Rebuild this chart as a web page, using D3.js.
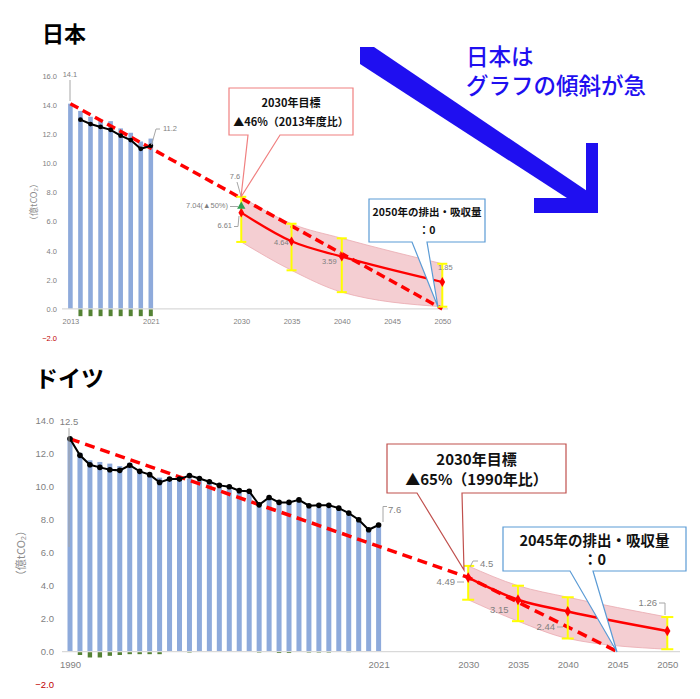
<!DOCTYPE html>
<html>
<head>
<meta charset="utf-8">
<script src="https://cdn.jsdelivr.net/npm/d3@7"></script>
<style>
  body { margin: 0; background: #fff; }
  text { font-family: "Noto Sans CJK JP", sans-serif; }
  .num { font-family: "Liberation Sans Narrow", "Liberation Sans", sans-serif; fill: #7f7f7f; }
</style>
</head>
<body>
<svg id="chart" width="700" height="699"></svg>
<script>
// ---- Japan ----
const jpYears = [2013, 2014, 2015, 2016, 2017, 2018, 2019, 2020, 2021];
const jpGross = [14.1, 13.6, 13.2, 13.0, 12.9, 12.4, 12.1, 11.5, 11.7];
const jpSink = [0, -0.5, -0.5, -0.5, -0.5, -0.5, -0.5, -0.5, -0.5];
const jpNetYears = [2014, 2015, 2016, 2017, 2018, 2019, 2020, 2021];
const jpNet = [13.0, 12.7, 12.5, 12.3, 11.9, 11.6, 11.0, 11.2];
const jpPathYears = [2013, 2030, 2050];
const jpPathVals = [14.1, 7.6, 0];
const jpProjYears = [2030, 2035, 2040, 2050];
const jpProj = [6.61, 4.64, 3.59, 1.85];
const jpHigh = [7.7, 5.85, 4.85, 3.1];
const jpLow = [4.6, 2.65, 1.15, 0.15];
const jpYTicks = [-2, 0, 2, 4, 6, 8, 10, 12, 14, 16];
const jpXTicks = [2013, 2021, 2030, 2035, 2040, 2045, 2050];

// ---- Germany ----
const deYears = [1990, 1991, 1992, 1993, 1994, 1995, 1996, 1997, 1998, 1999, 2000, 2001, 2002, 2003, 2004, 2005,
  2006, 2007, 2008, 2009, 2010, 2011, 2012, 2013, 2014, 2015, 2016, 2017, 2018, 2019, 2020, 2021];
const deGross = [12.9, 12.05, 11.6, 11.5, 11.4, 11.25, 11.45, 11.05, 10.85, 10.55, 10.35, 10.4, 10.5, 10.35, 10.2, 9.95,
  9.85, 9.65, 9.6, 8.8, 9.25, 8.95, 8.95, 9.1, 8.75, 8.75, 8.75, 8.6, 8.3, 7.9, 7.3, 7.6];
const deSink = [0, -0.2, -0.35, -0.35, -0.25, -0.2, -0.15, -0.15, -0.15, -0.15, 0, 0, -0.05, 0, 0, 0,
  0, 0, 0, -0.05, 0, -0.08, -0.08, 0, -0.05, -0.05, -0.05, 0, -0.03, 0, 0, 0];
const deNet = [12.9, 11.9, 11.33, 11.17, 11.03, 10.99, 11.3, 10.93, 10.73, 10.26, 10.46, 10.46, 10.67, 10.5, 10.3, 10.08,
  10.0, 9.76, 9.72, 8.9, 9.35, 9.05, 9.05, 9.2, 8.85, 8.87, 8.87, 8.7, 8.4, 8.0, 7.39, 7.68];
const dePathYears = [1990, 2030, 2045];
const dePathVals = [12.9, 4.5, 0];
const deProjYears = [2030, 2035, 2040, 2050];
const deProj = [4.49, 3.15, 2.44, 1.26];
const deHigh = [5.2, 4.0, 3.3, 2.1];
const deLow = [3.15, 1.85, 0.8, 0.15];
const deYTicks = [-2, 0, 2, 4, 6, 8, 10, 12, 14];
const deXTicks = [1990, 2021, 2030, 2035, 2040, 2045, 2050];

const svg = d3.select("#chart");
const BLUE = "#1f0ff0";

function drawPanel(c) {
  const g = svg.append("g");
  const x = c.x, y = c.y;

  // y tick labels
  const ya = g.append("g")
    .attr("transform", `translate(${c.yAxisX},0)`)
    .call(d3.axisLeft(y).tickValues(c.yTicks).tickSize(0).tickPadding(0).tickFormat(d3.format(".1f")));
  ya.select(".domain").remove();
  ya.selectAll("text").attr("class", "num").style("font-size", c.fs + "px")
    .style("fill", d => d < 0 ? "#c00000" : "#7f7f7f");

  g.append("text")
    .attr("transform", `translate(${c.titleX},${c.titleY}) rotate(-90)`)
    .attr("text-anchor", "middle").attr("dominant-baseline", "middle")
    .style("font-size", c.tfs + "px").style("fill", "#8c8c8c")
    .text("（億tCO₂）");

  // x tick labels
  const xa = g.append("g")
    .attr("transform", `translate(0,${y(0)})`)
    .call(d3.axisBottom(x).tickValues(c.xTicks).tickSize(0).tickPadding(c.xPad).tickFormat(d3.format("d")));
  xa.select(".domain").remove();
  xa.selectAll("text").attr("class", "num").style("font-size", c.fs + "px");

  // bars
  g.selectAll(".gross").data(d3.zip(c.years, c.gross)).join("rect")
    .attr("x", d => x(d[0]) - c.bw / 2).attr("y", d => y(d[1]))
    .attr("width", c.bw).attr("height", d => y(0) - y(d[1]))
    .attr("fill", "#8eaadb");
  g.selectAll(".sink").data(d3.zip(c.years, c.sink).filter(d => d[1] < 0)).join("rect")
    .attr("x", d => x(d[0]) - c.bw / 2 + 0.3).attr("y", y(0))
    .attr("width", c.bw - 0.6).attr("height", d => y(d[1]) - y(0))
    .attr("fill", "#548235");

  // baseline
  g.append("line").attr("x1", c.axisX0).attr("x2", c.axisX1)
    .attr("y1", y(0)).attr("y2", y(0)).attr("stroke", "#d9d9d9").attr("stroke-width", 1.2);

  // projection band
  const proj = c.projYears.map((yr, i) => ({ yr, v: c.proj[i], hi: c.high[i], lo: c.low[i] }));
  g.append("path").datum(proj)
    .attr("d", d3.area().curve(d3.curveMonotoneX).x(d => x(d.yr)).y0(d => y(d.lo)).y1(d => y(d.hi)))
    .attr("fill", "#f2c6ca").attr("fill-opacity", 0.85).attr("stroke", "#eaa9b0").attr("stroke-width", 0.8);

  g.append("path").datum(proj)
    .attr("d", d3.line().curve(d3.curveMonotoneX).x(d => x(d.yr)).y(d => y(d.v)))
    .attr("fill", "none").attr("stroke", "#ff0000").attr("stroke-width", c.lw);

  // dashed pathway
  g.append("path").datum(d3.zip(c.pathYears, c.pathVals))
    .attr("d", d3.line().x(d => x(d[0])).y(d => y(d[1])))
    .attr("fill", "none").attr("stroke", "#ff0000").attr("stroke-width", c.dw)
    .attr("stroke-dasharray", c.dash);

  // error bars
  const eb = g.selectAll(".eb").data(proj).join("g");
  eb.append("line").attr("x1", d => x(d.yr)).attr("x2", d => x(d.yr))
    .attr("y1", d => y(d.hi)).attr("y2", d => y(d.lo));
  eb.append("line").attr("x1", d => x(d.yr) - c.cap).attr("x2", d => x(d.yr) + c.cap)
    .attr("y1", d => y(d.hi)).attr("y2", d => y(d.hi));
  eb.append("line").attr("x1", d => x(d.yr) - c.cap).attr("x2", d => x(d.yr) + c.cap)
    .attr("y1", d => y(d.lo)).attr("y2", d => y(d.lo));
  eb.selectAll("line").attr("stroke", "#ffff00").attr("stroke-width", 2);

  g.selectAll(".dia").data(proj).join("path")
    .attr("d", d3.symbol(d3.symbolDiamond, c.dia))
    .attr("transform", d => `translate(${x(d.yr)},${y(d.v)})`)
    .attr("fill", "#ff0000");

  // net emissions line
  const net = d3.zip(c.netYears, c.net);
  g.append("path").datum(net)
    .attr("d", d3.line().x(d => x(d[0])).y(d => y(d[1])))
    .attr("fill", "none").attr("stroke", "#000").attr("stroke-width", 2);
  g.selectAll(".dot").data(net).join("circle")
    .attr("cx", d => x(d[0])).attr("cy", d => y(d[1])).attr("r", c.r).attr("fill", "#000");

  return g;
}

function label(g, px, py, txt, fs, anchor) {
  g.append("text").attr("class", "num").attr("x", px).attr("y", py)
    .attr("text-anchor", anchor || "start").attr("dominant-baseline", "middle")
    .style("font-size", fs + "px").text(txt);
}
function leader(g, pts) {
  g.append("path").attr("d", d3.line()(pts)).attr("fill", "none")
    .attr("stroke", "#a6a6a6").attr("stroke-width", 1);
}
function callout(g, b, w, tip, lines, fs, col, gap) {
  g.append("path")
    .attr("d", `M${b[0]},${b[1]}H${b[2]}V${b[3]}H${w[1]}L${tip[0]},${tip[1]}L${w[0]},${b[3]}H${b[0]}Z`)
    .attr("fill", "#fff").attr("stroke", col).attr("stroke-width", 1.2);
  const cx = (b[0] + b[2]) / 2, cy = (b[1] + b[3]) / 2;
  lines.forEach((t, i) => {
    g.append("text").attr("x", cx).attr("y", cy + (i - (lines.length - 1) / 2) * gap)
      .attr("text-anchor", "middle").attr("dominant-baseline", "central")
      .style("font-size", fs + "px").style("font-weight", "bold").style("fill", "#111").text(t);
  });
}

// ---- Japan panel ----
const jx = d3.scaleLinear().domain([2013, 2050]).range([70.4, 442.3]);
const jy = d3.scaleLinear().domain([-2, 16]).range([338, 76]);
const jp = drawPanel({
  x: jx, y: jy, yAxisX: 57, yTicks: jpYTicks, xTicks: jpXTicks, fs: 7.5, tfs: 9, xPad: 10,
  titleX: 35, titleY: 202, years: jpYears, gross: jpGross, sink: jpSink, bw: 4.6,
  axisX0: 62, axisX1: 448, projYears: jpProjYears, proj: jpProj, high: jpHigh, low: jpLow,
  pathYears: jpPathYears, pathVals: jpPathVals, netYears: jpNetYears, net: jpNet,
  lw: 2.2, dw: 3.5, dash: "9,5", cap: 5, dia: 28, r: 2.4
});
// 50% marker
jp.append("path").attr("d", d3.symbol(d3.symbolTriangle, 30))
  .attr("transform", `translate(${jx(2030)},${jy(7.04)})`).attr("fill", "#2e9e4f");
label(jp, 70, 75, "14.1", 7.5, "middle");
leader(jp, [[70, 80], [70, 101]]);
label(jp, 163, 129, "11.2", 7.5);
leader(jp, [[151.5, 145], [156, 129], [160, 129]]);
label(jp, 235, 177, "7.6", 7.5, "middle");
leader(jp, [[237, 182], [241, 196]]);
label(jp, 228, 206.5, "7.04(▲50%)", 7.5, "end");
leader(jp, [[230, 206.5], [238, 206.5]]);
label(jp, 232, 226.5, "6.61", 7.5, "end");
leader(jp, [[234, 226.5], [238, 226.5], [239, 216]]);
label(jp, 274, 243, "4.64", 7.5);
label(jp, 322, 262, "3.59", 7.5);
label(jp, 438, 268, "1.85", 7.5);
callout(jp, [229, 88, 353, 135], [248, 280], [241, 197], ["2030年目標", "▲46%（2013年度比）"], 11, "#f08080", 19);
callout(jp, [369, 199, 485, 242], [412, 427], [438, 307], ["2050年の排出・吸収量", "：0"], 10.5, "#5b9bd5", 17.5);

svg.append("text").attr("x", 42).attr("y", 42).style("font-size", "22px").style("font-weight", "bold").text("日本");

// big arrow and note
svg.append("path").attr("d", "M360,47L374,47L596,197L587,211L360,64Z").attr("fill", BLUE);
svg.append("path").attr("d", "M586,143L598,143L598,213L534,213L534,198L586,198Z").attr("fill", BLUE);
svg.append("text").attr("x", 466).attr("y", 65).style("font-size", "22.5px").style("font-weight", 500).style("fill", BLUE).text("日本は");
svg.append("text").attr("x", 466).attr("y", 94).style("font-size", "22.5px").style("font-weight", 500).style("fill", BLUE).text("グラフの傾斜が急");

// ---- Germany panel ----
const dx = d3.scaleLinear().domain([1990, 2050]).range([70, 667.3]);
const dy = d3.scaleLinear().domain([-2, 14]).range([684.7, 420.7]);
const de = drawPanel({
  x: dx, y: dy, yAxisX: 54, yTicks: deYTicks, xTicks: deXTicks, fs: 9.5, tfs: 11, xPad: 10,
  titleX: 22, titleY: 553, years: deYears, gross: deGross, sink: deSink, bw: 5,
  axisX0: 62, axisX1: 680, projYears: deProjYears, proj: deProj, high: deHigh, low: deLow,
  pathYears: dePathYears, pathVals: dePathVals, netYears: deYears, net: deNet,
  lw: 2.5, dw: 3.5, dash: "10,6", cap: 6, dia: 34, r: 2.8
});
label(de, 69, 422.5, "12.5", 9.5, "middle");
leader(de, [[69, 428], [69, 547]]);
label(de, 388, 510, "7.6", 9.5);
leader(de, [[383, 522], [383, 506.5], [387, 506.5]]);
label(de, 480, 564, "4.5", 9.5);
leader(de, [[470, 567], [473, 561], [478, 561]]);
label(de, 455, 582, "4.49", 9.5, "end");
leader(de, [[457, 582], [464, 582]]);
label(de, 490, 610, "3.15", 9.5);
label(de, 555, 627, "2.44", 9.5, "end");
leader(de, [[557, 627], [563, 627]]);
label(de, 657, 603, "1.26", 9.5, "end");
leader(de, [[659, 603], [665, 603], [665, 615]]);
callout(de, [387, 444, 566, 493], [417, 462], [464, 570], ["2030年目標", "▲65%（1990年比）"], 15, "#c0504d", 20);
callout(de, [503, 527, 686, 571], [570, 593], [617, 652], ["2045年の排出・吸収量", "：0"], 14.5, "#5b9bd5", 19);

svg.append("text").attr("x", 35).attr("y", 387).style("font-size", "23px").style("font-weight", "bold").text("ドイツ");
</script>
</body>
</html>
